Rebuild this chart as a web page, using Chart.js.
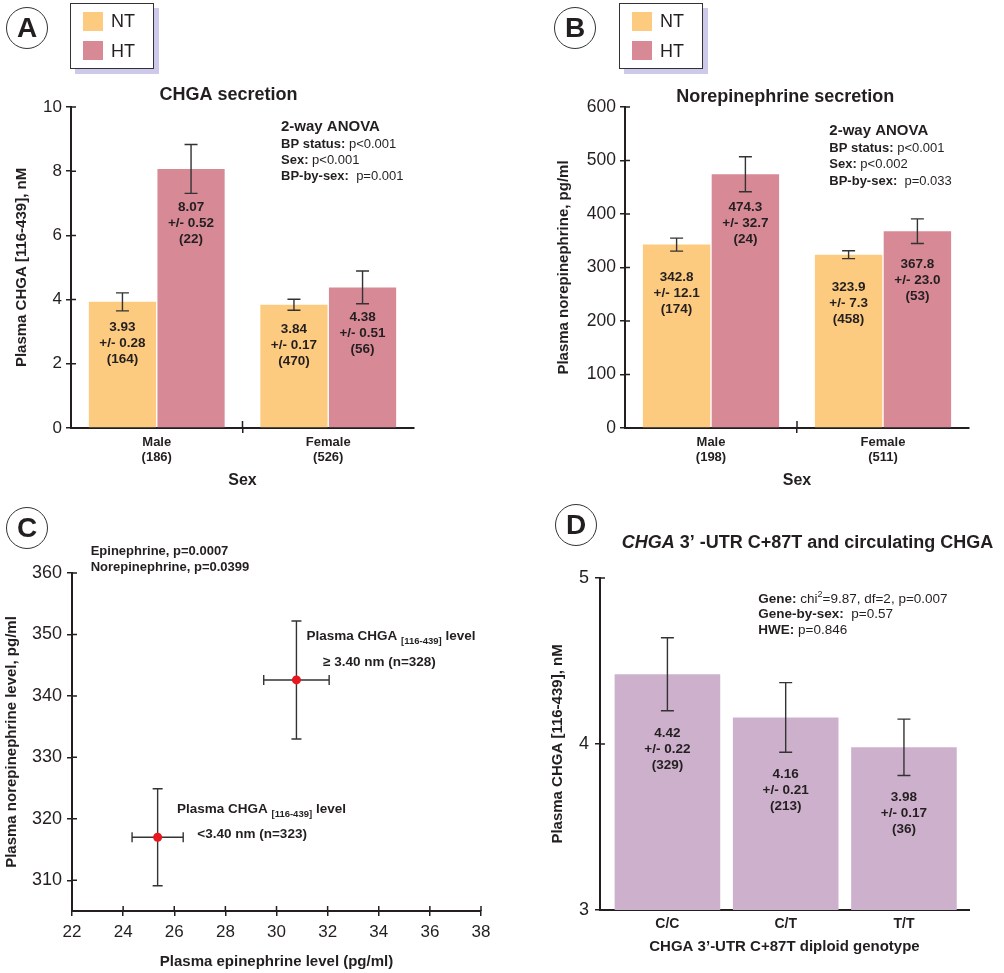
<!DOCTYPE html>
<html>
<head>
<meta charset="utf-8">
<title>CHGA, catecholamines and CHGA 3'-UTR genotype</title>
<script src="https://cdn.jsdelivr.net/npm/chart.js@4.4.1/dist/chart.umd.min.js"></script>
<style>
  body { margin: 0; background: #fff; }
  #fig { position: relative; width: 1004px; height: 973px; overflow: hidden;
         font-family: 'Liberation Sans', Arial, Helvetica, sans-serif; color: #231f20; }
  #fig canvas { position: absolute; }
  .tag { position: absolute; box-sizing: border-box; width: 42px; height: 42px;
         border: 1.4px solid #333; border-radius: 50%; background: #fff;
         font-weight: bold; font-size: 28px; line-height: 40px; text-align: center; }
  .legend { position: absolute; box-sizing: border-box; width: 84px; height: 66px;
            border: 1.4px solid #333; background: #fff; box-shadow: 5px 5px 0 #cdc9eb; }
  .legend .sw { position: absolute; left: 12px; width: 20px; height: 19px; }
  .legend .lb { position: absolute; left: 40px; font-size: 18px; line-height: 18px; }
</style>
</head>
<body>
<div id="fig">
  <canvas id="chartA" width="500" height="500" style="left:0;top:0"></canvas>
  <canvas id="chartB" width="504" height="500" style="left:500px;top:0"></canvas>
  <canvas id="chartC" width="500" height="473" style="left:0;top:500px"></canvas>
  <canvas id="chartD" width="504" height="473" style="left:500px;top:500px"></canvas>

  <div class="tag" style="left:6px;top:7px">A</div>
  <div class="tag" style="left:554px;top:7px">B</div>
  <div class="tag" style="left:6px;top:507px">C</div>
  <div class="tag" style="left:555px;top:504px">D</div>

  <div class="legend" style="left:70px;top:3px">
    <div class="sw" style="top:8px;background:#fdcb7f"></div><div class="lb" style="top:8px">NT</div>
    <div class="sw" style="top:37px;background:#d78a96"></div><div class="lb" style="top:38px">HT</div>
  </div>
  <div class="legend" style="left:619px;top:3px">
    <div class="sw" style="top:8px;background:#fdcb7f"></div><div class="lb" style="top:8px">NT</div>
    <div class="sw" style="top:37px;background:#d78a96"></div><div class="lb" style="top:38px">HT</div>
  </div>
</div>

<script>
const FONT = "'Liberation Sans', Arial, Helvetica, sans-serif";
const INK = '#231f20';
const AXIS = '#231f20';
const WHISKER = '#333';
const NT_COLOR = '#fdcb7f';
const HT_COLOR = '#d78a96';
const GENO_COLOR = '#cdb1cc';

// A: plasma CHGA by sex and BP status
const sexLabelsA = [['Male', '(186)'], ['Female', '(526)']];
const chgaNT = [3.93, 3.84];
const chgaHT = [8.07, 4.38];
const chgaNTsem = [0.28, 0.17];
const chgaHTsem = [0.52, 0.51];
const chgaHTwhisker = [0.76, 0.51]; // half-length of the HT whiskers as drawn
const chgaNTn = [164, 470];
const chgaHTn = [22, 56];

// B: plasma norepinephrine by sex and BP status
const sexLabelsB = [['Male', '(198)'], ['Female', '(511)']];
const neNT = [342.8, 323.9];
const neHT = [474.3, 367.8];
const neNTsem = [12.1, 7.3];
const neHTsem = [32.7, 23.0];
const neNTn = [174, 458];
const neHTn = [24, 53];

// C: epinephrine vs norepinephrine by CHGA level
const groupTags = ['<3.40 nm (n=323)', '\u2265 3.40 nm (n=328)'];
const epiMean = [25.35, 30.78];
const epiSem = [1.0, 1.28];
const neMean = [317.0, 342.6];
const neSem = [7.9, 9.6];

// D: CHGA by 3'-UTR C+87T genotype
const genotypes = ['C/C', 'C/T', 'T/T'];
const genoMean = [4.42, 4.16, 3.98];
const genoSem = [0.22, 0.21, 0.17];
const genoN = [329, 213, 36];

Chart.defaults.font.family = FONT;
Chart.defaults.color = INK;

const B = (t, s) => ({ t, s, w: 'bold' });
const R = (t, s) => ({ t, s, w: 'normal' });

function runFont(r) {
  return (r.i ? 'italic ' : '') + (r.w || 'bold') + ' ' + r.s + 'px ' + FONT;
}

// text made of runs with different weights / sizes on one line
function drawRuns(ctx, x, y, runs, align) {
  let width = 0;
  runs.forEach(r => { ctx.font = runFont(r); width += ctx.measureText(r.t).width; });
  let cx = align === 'center' ? x - width / 2 : x;
  ctx.textAlign = 'left';
  ctx.textBaseline = 'middle';
  ctx.fillStyle = INK;
  runs.forEach(r => {
    ctx.font = runFont(r);
    ctx.fillText(r.t, cx, y + (r.dy || 0));
    cx += ctx.measureText(r.t).width;
  });
}

function drawBarNotes(chart, cfg) {
  const ctx = chart.ctx;
  const ys = chart.scales.y;
  const b = cfg.bars;
  const cap = 6.5;
  ctx.save();
  chart.data.datasets.forEach((ds, di) => {
    chart.getDatasetMeta(di).data.forEach((bar, j) => {
      const v = typeof ds.data[j] === 'object' ? ds.data[j].y : ds.data[j];
      const e = b.err[di][j];
      const top = ys.getPixelForValue(v + e);
      const bot = ys.getPixelForValue(v - e);
      ctx.strokeStyle = WHISKER;
      ctx.lineWidth = 1.4;
      ctx.beginPath();
      ctx.moveTo(bar.x, top); ctx.lineTo(bar.x, bot);
      ctx.moveTo(bar.x - cap, top); ctx.lineTo(bar.x + cap, top);
      ctx.moveTo(bar.x - cap, bot); ctx.lineTo(bar.x + cap, bot);
      ctx.stroke();

      const lines = [v.toFixed(b.dec), '+/- ' + b.sem[di][j].toFixed(b.dec), '(' + b.n[di][j] + ')'];
      const y0 = Math.max(bar.y + b.gapTop, bot + b.gapErr);
      lines.forEach((t, k) => drawRuns(ctx, bar.x, y0 + k * 16, [B(t, 13.5)], 'center'));
    });
  });
  ctx.restore();
}

function drawXYErr(chart, cfg) {
  const ctx = chart.ctx;
  const xs = chart.scales.x, ys = chart.scales.y;
  const cap = 5;
  ctx.save();
  ctx.strokeStyle = WHISKER;
  ctx.lineWidth = 1.4;
  ctx.beginPath();
  chart.data.datasets[0].data.forEach((p, i) => {
    const px = xs.getPixelForValue(p.x), py = ys.getPixelForValue(p.y);
    const x0 = xs.getPixelForValue(p.x - cfg.xyErr.x[i]);
    const x1 = xs.getPixelForValue(p.x + cfg.xyErr.x[i]);
    const y0 = ys.getPixelForValue(p.y - cfg.xyErr.y[i]);
    const y1 = ys.getPixelForValue(p.y + cfg.xyErr.y[i]);
    ctx.moveTo(x0, py); ctx.lineTo(x1, py);
    ctx.moveTo(x0, py - cap); ctx.lineTo(x0, py + cap);
    ctx.moveTo(x1, py - cap); ctx.lineTo(x1, py + cap);
    ctx.moveTo(px, y0); ctx.lineTo(px, y1);
    ctx.moveTo(px - cap, y0); ctx.lineTo(px + cap, y0);
    ctx.moveTo(px - cap, y1); ctx.lineTo(px + cap, y1);
  });
  ctx.stroke();
  ctx.restore();
}

// tick marks that also reach a little inside the axes
function drawInnerTicks(chart, cfg) {
  const ctx = chart.ctx, a = chart.chartArea, len = 5;
  const xs = chart.scales.x, ys = chart.scales.y;
  ctx.save();
  ctx.strokeStyle = AXIS;
  ctx.lineWidth = 1.5;
  ctx.beginPath();
  ys.ticks.forEach((t, i) => {
    const p = ys.getPixelForTick(i);
    ctx.moveTo(a.left, p); ctx.lineTo(a.left + len, p);
  });
  if (cfg.xTicks === 'all') {
    xs.ticks.forEach((t, i) => {
      const p = xs.getPixelForTick(i);
      ctx.moveTo(p, a.bottom); ctx.lineTo(p, a.bottom - len);
    });
  } else if (cfg.xTicks === 'mid') {
    const p = (xs.getPixelForTick(0) + xs.getPixelForTick(1)) / 2;
    ctx.moveTo(p, a.bottom); ctx.lineTo(p, a.bottom - 7);
  }
  ctx.stroke();
  ctx.restore();
}

function extras(cfg) {
  return {
    id: 'extras',
    beforeDatasetsDraw(chart) {
      if (cfg.xyErr) drawXYErr(chart, cfg);
    },
    afterDatasetsDraw(chart) {
      if (cfg.bars) drawBarNotes(chart, cfg);
    },
    afterDraw(chart) {
      const ctx = chart.ctx;
      drawInnerTicks(chart, cfg);
      ctx.save();
      (cfg.texts || []).forEach(t => drawRuns(ctx, t.x, t.y, t.runs, t.align));
      if (cfg.pointLabels) {
        chart.getDatasetMeta(0).data.forEach((pt, i) => {
          const off = cfg.pointLabels.offsets[i];
          drawRuns(ctx, pt.x + off[0][0], pt.y + off[0][1],
            [B('Plasma CHGA ', 13.5), { t: '[116-439]', s: 9.5, w: 'bold', dy: 5 }, B(' level', 13.5)]);
          drawRuns(ctx, pt.x + off[1][0], pt.y + off[1][1], [B(cfg.pointLabels.tags[i], 13.5)]);
        });
      }
      ctx.restore();
    }
  };
}

function yAxis(opts) {
  return {
    min: opts.min, max: opts.max,
    ticks: { stepSize: opts.step, font: { size: opts.tickSize }, color: INK, padding: opts.tickPad, includeBounds: false },
    grid: { drawOnChartArea: false, tickLength: 5, color: AXIS, lineWidth: 1.5 },
    border: { color: AXIS, width: 2 },
    title: { display: true, text: opts.title, color: INK, font: { size: 15, weight: 'bold' },
             padding: { top: opts.titlePad, bottom: 0 } },
    afterFit: s => { s.width = opts.width; }
  };
}

function sexAxis(height) {
  return {
    offset: true,
    grid: { display: true, offset: true, drawOnChartArea: false, tickLength: 5, lineWidth: 1.5,
            color: c => (c.index === 1 ? AXIS : 'transparent') },
    border: { color: AXIS, width: 2 },
    ticks: { font: { size: 13, weight: 'bold', lineHeight: 1.15 }, color: INK, padding: 2 },
    title: { display: true, text: 'Sex', color: INK, font: { size: 16, weight: 'bold' },
             padding: { top: 0, bottom: 10 } },
    afterFit: s => { s.height = height; }
  };
}

const common = {
  responsive: false,
  animation: false,
  events: [],
  plugins: { legend: { display: false }, tooltip: { enabled: false } }
};

// Panel A
new Chart(document.getElementById('chartA'), {
  type: 'bar',
  data: {
    labels: sexLabelsA,
    datasets: [
      { label: 'NT', data: chgaNT, backgroundColor: NT_COLOR },
      { label: 'HT', data: chgaHT, backgroundColor: HT_COLOR }
    ]
  },
  options: {
    ...common,
    layout: { padding: { left: 0, top: 107, right: 86, bottom: 0 } },
    datasets: { bar: { categoryPercentage: 0.8, barPercentage: 0.98 } },
    scales: {
      x: sexAxis(72),
      y: yAxis({ min: 0, max: 10, step: 2, tickSize: 17, tickPad: 4, width: 71, titlePad: 13,
                 title: 'Plasma CHGA [116-439], nM' })
    }
  },
  plugins: [extras({
    xTicks: 'mid',
    bars: { err: [chgaNTsem, chgaHTwhisker], sem: [chgaNTsem, chgaHTsem], n: [chgaNTn, chgaHTn],
            dec: 2, gapTop: 25, gapErr: 14 },
    texts: [
      { x: 228.5, y: 95, align: 'center', runs: [B('CHGA secretion', 18)] },
      { x: 281, y: 127, runs: [B('2-way ANOVA', 15)] },
      { x: 281, y: 144, runs: [B('BP status:', 13), R(' p<0.001', 13)] },
      { x: 281, y: 160, runs: [B('Sex:', 13), R(' p<0.001', 13)] },
      { x: 281, y: 176, runs: [B('BP-by-sex:', 13), R('  p=0.001', 13)] }
    ]
  })]
});

// Panel B
new Chart(document.getElementById('chartB'), {
  type: 'bar',
  data: {
    labels: sexLabelsB,
    datasets: [
      { label: 'NT', data: neNT, backgroundColor: NT_COLOR },
      { label: 'HT', data: neHT, backgroundColor: HT_COLOR }
    ]
  },
  options: {
    ...common,
    layout: { padding: { left: 0, top: 107, right: 35, bottom: 0 } },
    datasets: { bar: { categoryPercentage: 0.8, barPercentage: 0.98 } },
    scales: {
      x: sexAxis(72),
      y: yAxis({ min: 0, max: 600, step: 100, tickSize: 17.5, tickPad: 4, width: 125, titlePad: 55,
                 title: 'Plasma norepinephrine, pg/ml' })
    }
  },
  plugins: [extras({
    xTicks: 'mid',
    bars: { err: [neNTsem, neHTsem], sem: [neNTsem, neHTsem], n: [neNTn, neHTn],
            dec: 1, gapTop: 33, gapErr: 14 },
    texts: [
      { x: 285.3, y: 97, align: 'center', runs: [B('Norepinephrine secretion', 18)] },
      { x: 329.3, y: 131, runs: [B('2-way ANOVA', 15)] },
      { x: 329.3, y: 148, runs: [B('BP status:', 13), R(' p<0.001', 13)] },
      { x: 329.3, y: 164.7, runs: [B('Sex:', 13), R(' p<0.002', 13)] },
      { x: 329.3, y: 181, runs: [B('BP-by-sex:', 13), R('  p=0.033', 13)] }
    ]
  })]
});

// Panel C
new Chart(document.getElementById('chartC'), {
  type: 'scatter',
  data: {
    datasets: [{
      label: 'CHGA level',
      data: epiMean.map((x, i) => ({ x, y: neMean[i] })),
      backgroundColor: '#e8161e',
      borderWidth: 0,
      pointRadius: 4.5
    }]
  },
  options: {
    ...common,
    layout: { padding: { left: 0, top: 73, right: 19, bottom: 0 } },
    scales: {
      x: {
        type: 'linear', min: 22, max: 38,
        ticks: { stepSize: 2, font: { size: 17 }, color: INK, padding: 6 },
        grid: { drawOnChartArea: false, tickLength: 5, color: AXIS, lineWidth: 1.5 },
        border: { color: AXIS, width: 2 },
        title: { display: true, text: 'Plasma epinephrine level (pg/ml)', color: INK,
                 font: { size: 15, weight: 'bold' }, padding: { top: 0, bottom: 2 } },
        afterFit: s => { s.height = 62; }
      },
      y: yAxis({ min: 305, max: 360, step: 10, tickSize: 18, tickPad: 5, width: 72, titlePad: 3,
                 title: 'Plasma norepinephrine level, pg/ml' })
    }
  },
  plugins: [extras({
    xTicks: 'all',
    xyErr: { x: epiSem, y: neSem },
    pointLabels: { tags: groupTags, offsets: [[[19.3, -28], [39.7, -2.7]], [[10, -43.6], [26.6, -18]]] },
    texts: [
      { x: 90.7, y: 51.7, runs: [B('Epinephrine, p=0.0007', 13)] },
      { x: 90.7, y: 67.7, runs: [B('Norepinephrine, p=0.0399', 13)] }
    ]
  })]
});

// Panel D
new Chart(document.getElementById('chartD'), {
  type: 'bar',
  data: {
    datasets: [{
      label: 'Plasma CHGA',
      data: genoMean.map((y, i) => ({ x: i, y })),
      backgroundColor: GENO_COLOR,
      categoryPercentage: 0.893,
      barPercentage: 1
    }]
  },
  options: {
    ...common,
    layout: { padding: { left: 0, top: 78, right: 35, bottom: 0 } },
    scales: {
      x: {
        type: 'linear', min: -0.57, max: 2.55, offset: false,
        ticks: { stepSize: 1, includeBounds: false, font: { size: 14, weight: 'bold' }, color: INK,
                 padding: 6, callback: v => genotypes[v] || '' },
        grid: { display: false, drawTicks: false, offset: false },
        border: { color: AXIS, width: 2 },
        title: { display: true, text: 'CHGA 3\u2019-UTR C+87T diploid genotype', color: INK,
                 font: { size: 15, weight: 'bold' }, padding: { top: 0, bottom: 17 } },
        afterFit: s => { s.height = 63; }
      },
      y: yAxis({ min: 3, max: 5, step: 1, tickSize: 18, tickPad: 6, width: 100, titlePad: 49,
                 title: 'Plasma CHGA [116-439], nM' })
    }
  },
  plugins: [extras({
    bars: { err: [genoSem], sem: [genoSem], n: [genoN], dec: 2, gapTop: 0, gapErr: 22 },
    texts: [
      { x: 121.7, y: 42.7, runs: [{ t: 'CHGA', s: 18, w: 'bold', i: true },
                                   B(' 3\u2019 -UTR C+87T and circulating CHGA', 18)] },
      { x: 258.3, y: 99.3, runs: [B('Gene:', 13.5), R(' chi', 13.5), { t: '2', s: 9, w: 'normal', dy: -5 },
                                   R('=9.87, df=2, p=0.007', 13.5)] },
      { x: 258.3, y: 114.3, runs: [B('Gene-by-sex:', 13.5), R('  p=0.57', 13.5)] },
      { x: 258.3, y: 130.7, runs: [B('HWE:', 13.5), R(' p=0.846', 13.5)] }
    ]
  })]
});
</script>
</body>
</html>
